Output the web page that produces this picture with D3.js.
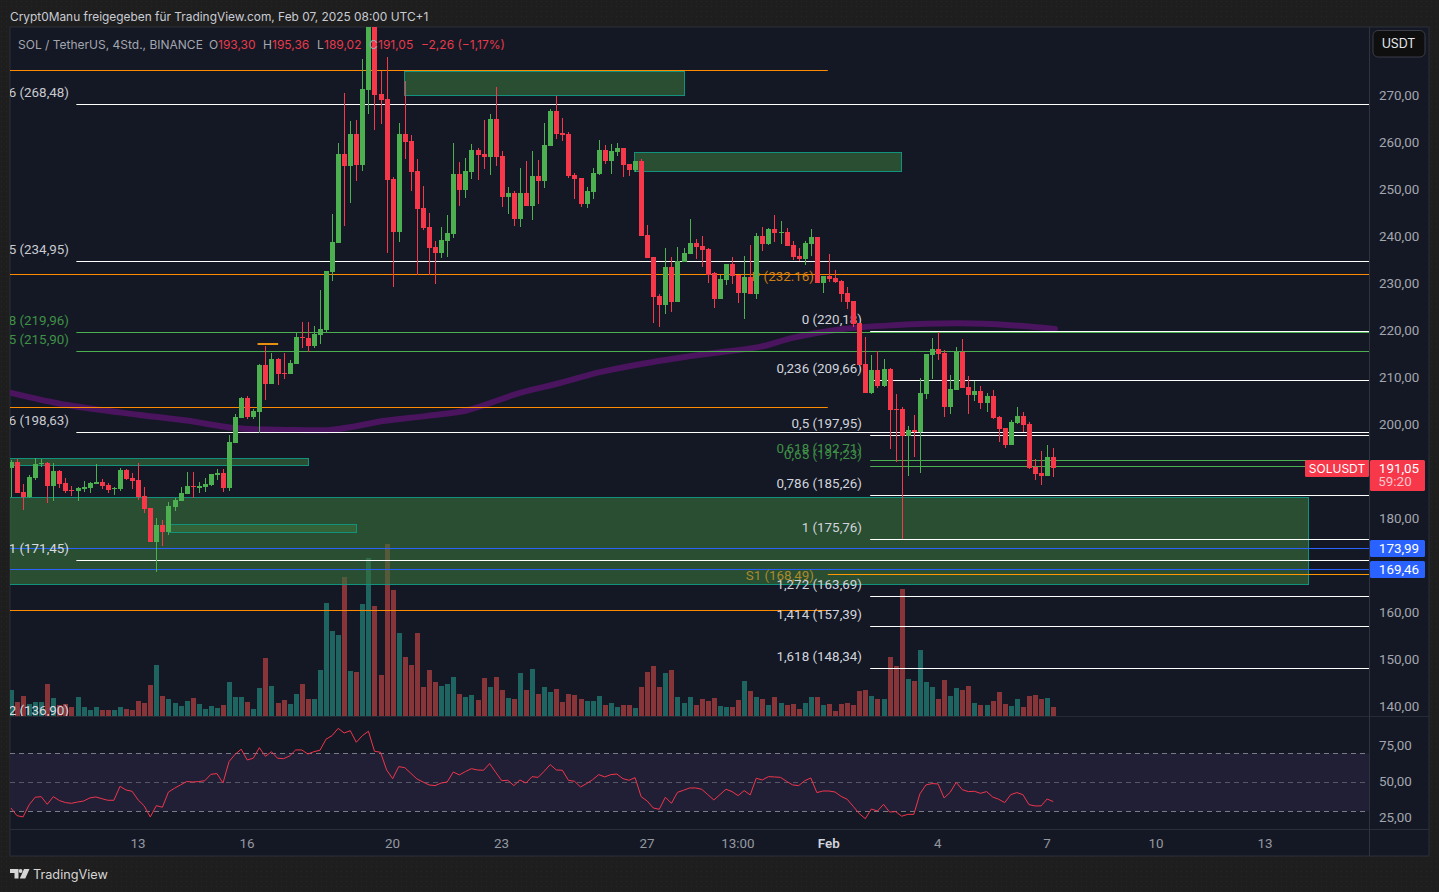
<!DOCTYPE html>
<html><head><meta charset="utf-8">
<script src="https://cdn.jsdelivr.net/npm/d3@7/dist/d3.min.js"></script>
<style>
html,body{margin:0;padding:0;background:#1e1e1e;overflow:hidden}
svg{display:block;font-family:Inter,"Noto Sans",sans-serif}
text{font-size:12px}
.fib{font-size:13.4px;font-family:Roboto,sans-serif}
</style></head><body><svg id="c" width="1439" height="892"></svg>
<script>
// Each row: open, high, low, close
const ohlc=[
[191.1,192.7,184.9,192.2],[192.2,192.84,185.74,185.74],[185.9,187.6,182.05,184.75],[184.75,189.5,184.6,189.08],[188.87,193.05,188.44,191.85],
[191.9,192.84,191.28,192.1],[192.06,192.2,183.61,187.16],[187.16,192.06,183.97,190.36],[190.36,190.57,186.81,187.59],[187.8,188.79,185.6,186.1],
[186.31,187.16,185.03,186.1],[186.17,187.02,183.97,186.74],[186.52,188.23,185.88,186.95],[186.74,188.08,185.67,187.8],[187.59,191.85,187.59,188.01],
[188.01,188.65,186.52,187.16],[187.37,187.73,185.67,186.31],[186.52,186.88,185.25,186.67],[186.52,190.92,186.1,190.57],[190.57,190.78,188.44,188.65],
[188.87,189.93,186.52,188.23],[188.44,192.06,184.18,184.82],[185.03,186.95,181.41,182.26],[182.48,182.48,175.24,175.24],[175.24,180.35,168.92,178.86],
[178.86,179.92,174.38,177.37],[177.37,183.75,176.73,182.9],[182.69,184.61,181.84,184.18],[183.97,186.95,183.97,185.67],[185.46,190.14,185.46,187.16],
[187.16,190.14,184.61,186.95],[186.74,188.01,185.67,187.16],[186.95,188.87,185.88,187.59],[187.37,189.72,187.16,189.72],[189.5,190.78,188.44,189.93],
[189.93,190.78,185.88,186.74],[186.74,198.02,186.1,196.53],[196.32,202.49,196.32,201.86],[201.64,206.11,201.64,205.9],[205.9,206.33,201.43,201.86],
[201.86,203.56,201.43,203.13],[202.92,213.14,198.45,212.93],[212.93,216.97,205.48,208.88],[208.88,215.48,208.88,214.21],[214.21,214.42,208.67,211.01],
[211.22,215.48,209.95,211.01],[211.01,213.99,211.01,213.35],[213.14,219.74,213.14,218.89],[218.89,222.09,216.55,218.68],[218.68,222.09,215.7,216.97],
[216.97,221.23,216.55,219.53],[219.32,228.9,217.4,220.59],[220.38,232.95,219.96,232.95],[232.74,245.09,230.82,239.13],[238.91,260.14,238.91,257.87],
[257.87,270.86,242.53,255.31],[255.31,264.89,247.43,262.13],[262.13,265.11,252.12,255.52],[255.52,278.1,254.25,271.71],[271.49,292,266.38,288],
[287.5,291,262.98,270.43],[270.64,275.54,264.25,269.37],[269.58,278.52,236.78,252.33],[252.54,252.97,229.54,241.26],[241.26,264.47,239.13,262.13],
[262.13,273.41,256.8,260.42],[260.63,261.91,249.99,254.03],[254.25,256.8,232.1,246.15],[246.37,251.05,241.68,242.11],[242.32,245.3,232.1,237.85],
[238.06,239.34,230.18,236.78],[236.78,242.32,235.72,239.55],[239.34,244.88,235.93,241.04],[240.83,260.21,239.98,253.61],[253.61,256.16,246.79,250.2],
[250.2,257.01,248.5,254.25],[254.03,260,252.54,258.72],[258.72,259.14,252.33,257.65],[257.86,265.1,254.67,257.22],[257.22,266.38,253.39,265.32],
[265.32,272.13,255.31,257.22],[257.44,258.5,246.58,248.71],[248.71,250.83,245.09,249.56],[249.56,249.98,242.53,244.02],[244.02,254.88,242.32,249.56],
[249.56,256.37,246.79,246.79],[246.79,258.5,243.81,253.18],[253.18,256.58,247.21,252.11],[252.11,264.46,250.62,259.78],[259.57,267.44,259.57,267.02],
[267.02,270.21,261.06,262.12],[262.33,265.53,260.63,261.91],[262.12,262.55,252.75,253.18],[253.39,253.82,248.28,252.54],[252.75,252.75,246.58,247.21],
[247.21,250.83,246.36,249.98],[249.77,254.88,248.28,253.82],[253.6,260.84,253.39,258.71],[258.71,259.78,255.73,256.37],[256.37,259.99,253.6,258.5],
[258.29,260.2,257.44,259.14],[259.14,259.14,252.96,255.52],[255.73,255.73,253.18,254.45],[254.45,256.37,254.03,256.37],[256.37,256.8,240.4,240.4],
[240.61,242.74,235.72,235.72],[235.93,235.93,221.87,227.41],[227.62,228.05,221.02,225.71],[225.71,237.84,223.79,233.8],[233.8,235.93,224.22,226.35],
[226.35,238.06,226.35,235.08],[234.86,237.84,234.86,236.78],[236.57,244.02,236.57,238.91],[238.91,239.76,235.5,238.06],[238.27,240.4,233.8,237.42],
[237.63,237.84,230.39,232.1],[232.52,232.73,225.07,226.98],[226.98,232.1,226.98,231.24],[231.03,234.44,229.97,234.44],[234.44,235.93,230.18,231.88],
[232.1,232.1,226.13,228.26],[228.26,236.14,222.73,231.67],[231.67,238.48,228.05,228.05],[228.05,241.04,226.98,240.4],[240.4,242.32,237.21,238.7],
[238.7,242.1,238.48,241.89],[241.89,244.87,239.12,241.04],[241.04,243.59,238.7,241.25],[241.25,242.1,238.27,238.27],[238.48,239.34,235.29,235.93],
[236.14,237.84,235.08,235.5],[235.5,239.34,234.22,238.91],[238.7,241.89,236.14,240.19],[240.19,240.19,230.39,230.39],[230.39,231.88,228.26,231.88],
[231.88,236.57,230.6,231.24],[231.46,233.16,230.39,230.6],[230.82,231.03,226.35,228.05],[228.26,229.54,224.85,226.35],[226.56,226.56,221.02,221.66],
[221.87,221.87,212.93,212.93],[213.14,218.89,206.97,206.97],[206.97,215.06,206.76,211.87],[211.87,215.91,208.03,208.46],[208.46,214.21,208.25,212.08],
[212.08,212.29,195.04,203.35],[203.56,206.76,192.27,203.35],[203.56,203.99,175.88,197.81],[197.81,199.94,189.29,199.09],[199.09,202.28,193.34,198.66],
[198.66,210.16,189.93,206.97],[206.76,215.27,205.69,215.27],[215.06,218.68,209.95,216.34],[216.34,219.96,214,215.27],[215.49,216.12,201.86,203.99],
[203.99,210.8,202.5,207.82],[207.61,216.76,207.61,215.91],[215.77,218.47,208.03,208.03],[208.25,210.59,202.5,206.54],[206.54,209.52,205.26,207.39],
[207.39,208.46,203.56,204.84],[204.84,206.97,202.92,206.33],[206.33,207.61,201.43,201.64],[201.86,202.07,196.53,199.3],[199.51,199.51,195.26,195.89],
[195.89,201.22,195.89,200.79],[200.58,203.99,200.37,202.07],[202.07,202.92,198.66,200.15],[200.37,200.79,190.78,191],[191.21,192.91,188.44,189.72],
[189.93,194.62,187.38,189.29],[189.29,195.89,189.29,193.34],[193.3,195.36,189.02,191.05]];
const volume=[26,14,20,12,14,14,32,18,11,12,9,19,9,6,9,6,6,6,9,7,6,15,13,31,51,20,17,13,10,15,18,12,7,10,8,11,34,19,19,14,7,28,58,30,13,16,12,22,32,17,17,46,113,85,81,139,45,44,112,158,110,41,172,126,83,59,51,83,29,46,34,30,32,39,22,19,21,16,
38,29,39,26,18,17,43,26,47,22,29,24,27,14,22,21,17,15,15,20,11,13,9,11,11,8,29,44,50,29,43,46,19,13,19,11,17,15,18,10,9,9,16,35,25,19,17,11,19,13,11,12,7,13,19,19,11,12,5,12,13,11,25,26,20,17,17,59,50,127,37,35,66,34,29,17,36,20,28,26,30,13,11,11,15,24,12,10,17,9,20,21,17,18,9];
const rsi=[32.3,27,26.1,34.4,39.7,40.1,34.8,40.1,37.4,36,35.5,36.4,37.1,39.2,39.9,38.7,37.6,37.6,47.2,44.7,43.8,37.8,33.7,26.1,33.9,32.8,43.3,45.9,48.2,50.5,50.2,50.5,51.1,55.5,56,49.5,64.3,69.3,72.8,65.4,66.6,73.9,67.9,71.1,66.6,66.3,68.2,72.3,72.3,69.5,71.1,72.1,79.7,82.2,87.2,84,85.6,77.6,82.2,85.2,71.4,70.7,58.5,52.5,60.8,60.1,56.2,52.3,50.2,48.2,47.7,49.5,50.2,57.1,55.1,57.4,59.4,58.5,
58.3,62.9,56.9,51.1,51.4,47.7,51.6,49.5,53.9,53.4,57.6,62.2,58.5,58.3,51.4,50.7,46.8,49.1,51.8,55.3,53.7,55.3,55.7,52.5,51.4,53.2,40.1,37.1,32.3,31.4,39.7,35.5,43.1,44.5,46.1,46.1,45.2,41.5,37.8,41.5,45.2,43.6,40.8,44.3,41.3,52.8,51.6,53.9,53.7,53.4,50.7,48.2,47.7,51.1,53,42.9,44,44,43.3,40.3,38.3,33.4,28.4,24.9,31.6,30.2,34.8,29.5,29.8,26.6,27.9,27.9,42,48.2,49.1,48.9,39.2,43.1,50,44.9,43.6,43.8,42.4,43.6,39.9,38.3,36,41.5,42.9,41.5,34.6,33.7,33.7,38.5,36.7];
const maBar=[0,9.3,21.3,29,37,45.6,52.7,56.5,61.4,68.7,75.3,84,90.6,97.2,103.8,113.7,123.6,129,137.3,145.6,156.6,165,172.3];
const maVal=[207,204.4,202.3,201.1,199.5,199.1,199.1,199.8,201,202.1,203.3,207,209.1,211.4,213.1,215.1,216.8,218.7,220.6,221.4,221.8,221.4,220.6];
const priceTicks=[270,260,250,240,230,220,210,200,180,160,150,140];
const rsiTicks=[75,50,25];
const dateTickBars=[21,39,63,81,105,120,135,153,171,189,207];
const dateTickLabels=["13","16","20","23","27","13:00","Feb","4","7","10","13"];
// zones: from-bar, to-bar, top price, bottom price
const zones=[[64.87,111,275.5,270.4],[102.9,147,258.2,254.2],[-1,49,193.06,191.5],[26,57.1,179.07,177.43],[-1,214,184.76,166.23]];
const lines=[
 {p:275.64,a:-1,b:134.8,c:"#ff8c00"},{p:203.86,a:-1,b:134.8,c:"#ff8c00"},{p:160.67,a:-1,b:134.8,c:"#ff8c00"},
 {p:232.3,a:-1,b:226,c:"#ff8c00"},{p:168.49,a:134.8,b:226,c:"#ff9800"},
 {p:268.48,a:10.8,b:226,c:"#fff"},{p:234.95,a:10.8,b:226,c:"#fff"},{p:198.63,a:10.8,b:226,c:"#fff"},{p:171.45,a:10.8,b:226,c:"#fff"},
 {p:220.18,a:141.8,b:226,c:"#fff"},{p:209.66,a:141.8,b:226,c:"#fff"},{p:197.95,a:141.8,b:226,c:"#fff"},{p:185.26,a:141.8,b:226,c:"#fff"},{p:175.76,a:141.8,b:226,c:"#fff"},{p:163.69,a:141.8,b:226,c:"#fff"},{p:157.39,a:141.8,b:226,c:"#fff"},{p:148.34,a:141.8,b:226,c:"#fff"},
 {p:219.96,a:10.8,b:226,c:"#4caf50"},{p:215.9,a:10.8,b:226,c:"#4caf50"},
 {p:192.71,a:141.8,b:226,c:"#4caf50"},{p:191.3,a:141.8,b:226,c:"#4caf50"},
 {p:173.99,a:-1,b:226,c:"#2962ff"},{p:169.46,a:-1,b:226,c:"#2962ff"}];
const leftLabels=[["0,236 (268,48)",92.5,"#c8cad0"],["0,65 (234,95)",249.5,"#c8cad0"],["0,618 (219,96)",320.5,"#3f9146"],["0,65 (215,90)",339.5,"#3f9146"],["0,786 (198,63)",420.5,"#c8cad0"],["1 (171,45)",548.5,"#d8dae0"],["1,272 (136,90)",710.5,"#d8dae0"]];
const rightLabels=[["0 (220,18)",319.5,"#d1d4dc"],["0,236 (209,66)",368.5,"#d1d4dc"],["0,5 (197,95)",423.5,"#d1d4dc"],["0,618 (192,71)",448.5,"#3f9146"],["0,65 (191,23)",454.5,"#3f9146"],["0,786 (185,26)",483.5,"#d1d4dc"],["1 (175,76)",527.5,"#d1d4dc"],["1,272 (163,69)",584.5,"#d1d4dc"],["1,414 (157,39)",614.5,"#d1d4dc"],["1,618 (148,34)",656.5,"#d1d4dc"]];

const svg=d3.select("#c");
const defs=svg.append("defs");
const P={l:10,r:1369,t:27,vb:716,rb:829,b:856,fr:1429};
defs.append("clipPath").attr("id","pane").append("rect").attr("x",P.l).attr("y",P.t).attr("width",P.r-P.l).attr("height",P.vb-P.t);
defs.append("clipPath").attr("id","rp").append("rect").attr("x",P.l).attr("y",P.vb).attr("width",P.r-P.l).attr("height",P.rb-P.vb);
const dot=defs.append("pattern").attr("id","dots").attr("width",5).attr("height",5).attr("patternUnits","userSpaceOnUse");
dot.append("rect").attr("x",1).attr("y",1).attr("width",1).attr("height",1).attr("fill","rgba(255,255,255,.035)");
svg.append("rect").attr("width",1439).attr("height",892).attr("fill","#1e1e1e");
svg.append("rect").attr("width",1439).attr("height",892).attr("fill","url(#dots)");
svg.append("rect").attr("x",P.l).attr("y",P.t).attr("width",P.fr-P.l).attr("height",P.b-P.t).attr("fill","#141824").attr("stroke","#2a2e39");

const x=d3.scaleLinear().domain([0,172]).range([10.9,1053.2]);
const y=d3.scaleLinear().domain([270,140]).range([97,707.5]);
const yv=d3.scaleLinear().domain([0,172]).range([P.vb,P.vb-172]);
const yr=d3.scaleLinear().domain([50,30]).range([782.3,811.3]);
const UP="#4caf50",DN="#f7374a";
const isUp=d=>d[3]>=d[0];

// volume
const main=svg.append("g").attr("clip-path","url(#pane)");
main.append("g").selectAll("rect").data(volume).join("rect")
 .attr("x",(d,i)=>Math.round(x(i))-2).attr("width",5).attr("y",d=>yv(d)).attr("height",d=>P.vb-yv(d))
 .attr("fill",(d,i)=>isUp(ohlc[i])?"#1e6460":"#873539").attr("shape-rendering","crispEdges");
// zones
main.append("g").selectAll("rect").data(zones).join("rect")
 .attr("x",d=>x(d[0])).attr("width",d=>x(d[1])-x(d[0])).attr("y",d=>y(d[2])).attr("height",d=>y(d[3])-y(d[2]))
 .attr("fill","rgb(56,112,60)").attr("fill-opacity",.62).attr("shape-rendering","crispEdges");
main.append("g").selectAll("rect").data(zones).join("rect")
 .attr("x",d=>Math.round(x(d[0]))+.5).attr("width",d=>Math.round(x(d[1])-x(d[0]))).attr("y",d=>Math.round(y(d[2]))+.5).attr("height",d=>Math.round(y(d[3])-y(d[2])))
 .attr("fill","none").attr("stroke","#12917c");
// MA
const ma=d3.line().x((d,i)=>x(maBar[i])).y(d=>y(d)).curve(d3.curveCatmullRom);
main.append("path").attr("d",ma(maVal)).attr("fill","none").attr("stroke","#4a145e").attr("stroke-width",6).attr("stroke-linecap","round");
// lines
const rowY=p=>Math.round(y(p)-.2)+.5;
main.append("g").selectAll("line").data(lines).join("line")
 .attr("x1",d=>x(d.a)).attr("x2",d=>x(d.b)).attr("y1",d=>rowY(d.p)).attr("y2",d=>rowY(d.p))
 .attr("stroke",d=>d.c).attr("stroke-width",1);
main.append("line").attr("x1",x(40.7)).attr("x2",x(44.1)).attr("y1",y(217.4)).attr("y2",y(217.4)).attr("stroke","#e88f12").attr("stroke-width",2);
// fib labels
main.append("g").selectAll("text").data(leftLabels).join("text").attr("class","fib").attr("x",69).attr("y",d=>d[1]).attr("dy",".35em").attr("text-anchor","end").attr("fill",d=>d[2]).text(d=>d[0]);
main.append("g").selectAll("text").data(rightLabels).join("text").attr("class","fib").attr("x",862).attr("y",d=>d[1]).attr("dy",".35em").attr("text-anchor","end").attr("fill",d=>d[2]).text(d=>d[0]);
main.append("text").attr("class","fib").attr("x",814).attr("y",276).attr("dy",".35em").attr("text-anchor","end").attr("fill","#cf7f16").text("P (232.16)");
main.append("text").attr("class","fib").attr("x",814).attr("y",575.5).attr("dy",".35em").attr("text-anchor","end").attr("fill","#a98a2c").text("S1 (168,49)");
// candles
const cg=main.append("g").selectAll("g").data(ohlc).join("g").attr("shape-rendering","crispEdges");
cg.append("rect").attr("x",(d,i)=>Math.round(x(i))).attr("width",1).attr("y",d=>y(d[1])).attr("height",d=>y(d[2])-y(d[1])).attr("fill",d=>isUp(d)?UP:DN);
cg.append("rect").attr("x",(d,i)=>Math.round(x(i))-2).attr("width",5).attr("y",d=>y(Math.max(d[0],d[3]))).attr("height",d=>Math.max(1,Math.abs(y(d[0])-y(d[3])))).attr("fill",d=>isUp(d)?UP:DN);

// RSI pane
svg.append("line").attr("x1",P.l).attr("x2",P.fr).attr("y1",P.vb+.5).attr("y2",P.vb+.5).attr("stroke","#262a35");
svg.append("line").attr("x1",P.l).attr("x2",P.fr).attr("y1",P.rb+.5).attr("y2",P.rb+.5).attr("stroke","#2a2e39");
const rp=svg.append("g").attr("clip-path","url(#rp)");
rp.append("rect").attr("x",P.l).attr("width",P.r-P.l).attr("y",yr(70)).attr("height",yr(30)-yr(70)).attr("fill","#211f36");
rp.selectAll("line").data([70,50,30]).join("line").attr("x1",P.l).attr("x2",P.r).attr("y1",d=>Math.round(yr(d))+.5).attr("y2",d=>Math.round(yr(d))+.5)
 .attr("stroke",d=>d==50?"#565963":"#787b86").attr("stroke-dasharray","5 4");
rp.append("path").attr("d",d3.line().x((d,i)=>x(i)).y(d=>yr(d))(rsi)).attr("fill","none").attr("stroke","#f0354c").attr("stroke-width",1);

// axes
svg.append("line").attr("x1",P.r+.5).attr("x2",P.r+.5).attr("y1",P.t).attr("y2",P.b).attr("stroke","#2f333e");
const fmt=v=>d3.format(".2f")(v).replace(".",",");
const ax=svg.append("g").attr("transform",`translate(${P.r},0)`).call(d3.axisRight(y).tickValues(priceTicks).tickFormat(fmt).tickSize(0).tickPadding(10));
ax.select(".domain").remove();
ax.selectAll("text").attr("fill","#a3a6af").attr("class","fib").attr("y",-1.5);
const ar=svg.append("g").attr("transform",`translate(${P.r},0)`).call(d3.axisRight(yr).tickValues(rsiTicks).tickFormat(fmt).tickSize(0).tickPadding(10));
ar.select(".domain").remove();
ar.selectAll("text").attr("fill","#a3a6af").attr("class","fib").attr("y",-1);
const ad=svg.append("g").attr("transform",`translate(0,${P.rb})`).call(d3.axisBottom(x).tickValues(dateTickBars).tickFormat((d,i)=>dateTickLabels[i]).tickSize(0).tickPadding(9.5));
ad.select(".domain").remove();
ad.selectAll("text").attr("fill",(d,i)=>dateTickLabels[i]=="Feb"?"#d1d4dc":"#9598a1").attr("class","fib").attr("font-weight",(d,i)=>dateTickLabels[i]=="Feb"?600:400).attr("x",-.7);

// tags
function tag(xx,yy,w,h,c){svg.append("rect").attr("x",xx).attr("y",yy).attr("width",w).attr("height",h).attr("rx",1.5).attr("fill",c);}
function t(xx,yy,s,c,a,cls){const e=svg.append("text").attr("x",xx).attr("y",yy).attr("dy",".35em").attr("fill",c).attr("text-anchor",a||"start").text(s);if(typeof cls=="number")e.style("font-size",cls+"px");else if(cls)e.attr("class",cls);return e;}
tag(1305,460,64,17,DN);t(1337,468.5,"SOLUSDT","#fff","middle");
tag(1370,460,55,31,DN);t(1399,468,"191,05","#fff","middle","fib");t(1395,481.5,"59:20","#fbc5ca","middle","fib");
tag(1370,540,55,17,"#2962ff");t(1399,548,"173,99","#fff","middle","fib");
tag(1370,561,55,17,"#2962ff");t(1399,569,"169,46","#fff","middle","fib");
svg.append("rect").attr("x",1373).attr("y",30.5).attr("width",52).attr("height",26.5).attr("rx",5).attr("fill","#0f0f10").attr("stroke","#3a3d45");
t(1398.5,44,"USDT","#e6e7ea","middle",12.4);

// header
t(10,17,"Crypt0Manu freigegeben für TradingView.com, Feb 07, 2025 08:00 UTC+1","#c8cbd3",null,11.9);
const RV="#e83a4c",GR="#a3a6af";
t(18,45,"SOL / TetherUS, 4Std., BINANCE",GR);
[["O",209,GR],["193,30",218,RV],["H",263,GR],["195,36",272,RV],["L",317,GR],["189,02",324,RV],["C",369,GR],["191,05",378,RV],["−2,26 (−1,17%)",421,RV]].forEach(a=>t(a[1],45,a[0],a[2]));

// logo
const logo=svg.append("g").attr("fill","#d6d6d6");
logo.append("path").attr("d","M10 869h8.5v9.5h-4v-5.5H10z");
logo.append("circle").attr("cx",20.6).attr("cy",871).attr("r",1.9);
logo.append("path").attr("d","M24 869h5.5l-4.2 9.5h-5.5z");
t(33,874.5,"TradingView","#d6d6d6",null,12.7);
</script></body></html>
